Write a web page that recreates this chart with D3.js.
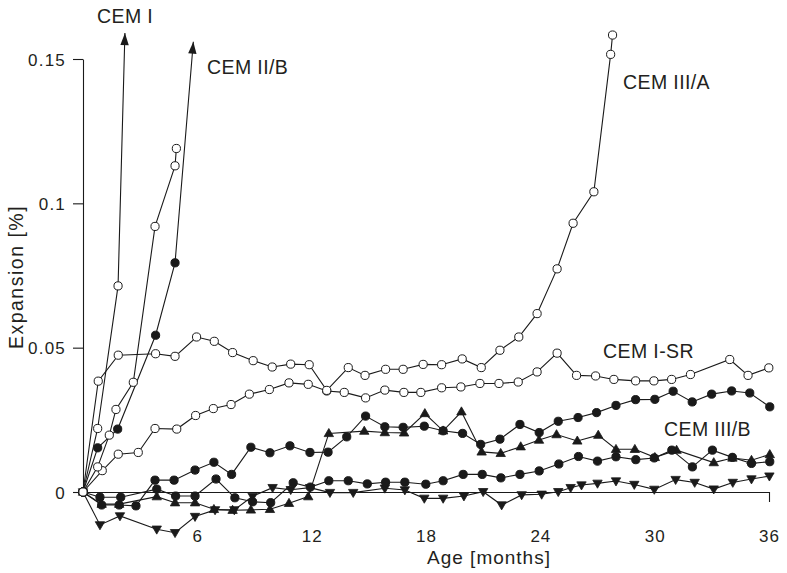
<!DOCTYPE html>
<html>
<head>
<meta charset="utf-8">
<script src="https://cdn.jsdelivr.net/npm/d3@7"></script>
<style>
  body { margin: 0; background: #fff; }
  svg text { font-family: "Liberation Sans", Arial, sans-serif; fill: #231f20; }
</style>
</head>
<body>
<div id="chart"></div>
<script>
// [month, expansion %]
const cemIOpen = [[0, 0], [0.77, 0.022], [1.84, 0.0714]];
const cemIArrow = [2.2, 0.159];

const cemIIBOpen = [[0, 0], [0.77, 0.0087], [1.38, 0.0197], [1.73, 0.0286], [2.64, 0.038],
    [3.78, 0.092], [4.83, 0.113], [4.9, 0.119]];
const cemIIBFilled = [[0, 0], [0.77, 0.0153], [1.82, 0.0218], [3.81, 0.0543], [4.83, 0.0794]];
const cemIIBArrow = [5.79, 0.156];

const cemIIIAOpen = [[0, 0], [0.8, 0.0384], [1.85, 0.0474], [3.81, 0.0479], [4.83, 0.047],
    [5.96, 0.0537], [6.89, 0.0522], [7.85, 0.0483], [8.93, 0.0455], [9.93, 0.0433],
    [10.9, 0.0443], [11.87, 0.0441], [12.79, 0.0352], [13.92, 0.0431], [14.8, 0.0404],
    [15.88, 0.0425], [16.8, 0.0425], [17.85, 0.0442], [18.82, 0.0441], [19.9, 0.0461],
    [20.9, 0.0431], [21.88, 0.0491], [22.87, 0.0537], [23.83, 0.0618], [24.88, 0.0773],
    [25.72, 0.0931], [26.81, 0.104], [27.69, 0.1516], [27.79, 0.1583]];

const cemISROpen = [[0, 0], [1.01, 0.0074], [1.85, 0.0131], [2.9, 0.0137], [3.78, 0.022],
    [4.92, 0.0218], [5.91, 0.0265], [6.84, 0.0289], [7.77, 0.0303], [8.73, 0.0339],
    [9.78, 0.0355], [10.81, 0.0378], [11.82, 0.0373], [12.79, 0.035], [13.71, 0.0345],
    [14.83, 0.0326], [15.84, 0.0353], [16.84, 0.0345], [17.73, 0.0345], [18.82, 0.0361],
    [19.83, 0.0364], [20.83, 0.0376], [21.83, 0.0376], [22.84, 0.0381], [23.83, 0.0416],
    [24.88, 0.0481], [25.9, 0.0404], [26.9, 0.0402], [27.86, 0.039], [29.0, 0.0385],
    [29.96, 0.0385], [30.89, 0.039], [31.88, 0.0407], [33.94, 0.0459], [34.9, 0.0404],
    [35.99, 0.043]];

const cemISRFilled = [[0, 0], [0.98, -0.0045], [1.9, -0.0045], [2.78, -0.0048], [3.78, 0.0041],
    [4.78, 0.0041], [5.88, 0.0076], [6.87, 0.0103], [7.8, 0.0061], [8.81, 0.0155],
    [9.81, 0.0136], [10.86, 0.016], [11.91, 0.0137], [12.86, 0.0138], [13.84, 0.0191],
    [14.83, 0.0263], [15.84, 0.0226], [16.8, 0.0224], [17.91, 0.0228], [18.9, 0.0212],
    [19.92, 0.0203], [20.87, 0.0165], [21.88, 0.0183], [22.93, 0.0234], [23.94, 0.0206],
    [24.94, 0.0245], [25.98, 0.0258], [26.95, 0.0275], [27.97, 0.03], [29.0, 0.032],
    [30.01, 0.0321], [30.97, 0.0349], [31.97, 0.0312], [32.99, 0.0339], [34.04, 0.035],
    [34.99, 0.0343], [36.04, 0.0295]];

const cemIIIBFilled = [[0, 0], [0.89, -0.0018], [1.98, -0.0018], [3.87, 0.001], [4.86, -0.0014],
    [5.88, -0.0014], [6.98, 0.0045], [7.97, -0.002], [8.9, -0.0034], [9.85, -0.0037],
    [11.03, 0.0032], [11.93, 0.0017], [12.9, 0.0039], [13.92, 0.0039], [14.92, 0.0028],
    [15.88, 0.0034], [16.89, 0.0034], [17.99, 0.0027], [18.9, 0.0039], [19.95, 0.0061],
    [20.95, 0.0061], [21.93, 0.0049], [22.93, 0.0061], [23.94, 0.0073], [24.97, 0.0097],
    [26.0, 0.0123], [27.0, 0.0107], [27.97, 0.0122], [29.01, 0.0112], [29.98, 0.0118],
    [30.9, 0.0145], [31.98, 0.0087], [33.03, 0.0145], [34.08, 0.012], [35.08, 0.0099],
    [36.04, 0.0105]];

const cemIIIBUp = [[0, 0], [0.98, -0.0042], [1.9, -0.0042], [3.87, -0.0016], [4.83, -0.0037],
    [5.88, -0.0037], [6.87, -0.006], [7.85, -0.0063], [8.81, -0.0062], [9.81, -0.006],
    [10.81, -0.0039], [11.82, -0.0016], [12.9, 0.0203], [14.76, 0.0211], [15.84, 0.0206],
    [16.85, 0.0205], [17.94, 0.0272], [18.9, 0.0212], [19.86, 0.0278], [20.92, 0.0139],
    [21.92, 0.0134], [22.97, 0.0157], [23.93, 0.018], [24.85, 0.0199], [25.94, 0.0177],
    [27.04, 0.0197], [27.97, 0.0148], [28.96, 0.0148], [30.01, 0.012], [31.15, 0.0145],
    [33.1, 0.0102], [34.08, 0.0118], [35.08, 0.011], [36.04, 0.013]];

const cemIIIBDown = [[0, 0], [0.89, -0.0114], [1.94, -0.0083], [3.87, -0.0129], [4.83, -0.0141],
    [5.88, -0.0085], [6.93, -0.0062], [7.94, -0.0062], [8.9, -0.0015], [9.95, 0.0015],
    [10.9, 0.0008], [11.91, 0.0015], [12.96, -0.0002], [14.18, -0.0002], [15.84, 0.0013],
    [16.89, 0.0007], [17.91, -0.0022], [18.9, -0.0022], [19.99, -0.0014], [21.0, 0.0001],
    [21.97, -0.0045], [23.02, -0.001], [24.07, -0.0008], [24.94, 0.0001], [25.59, 0.0015],
    [26.16, 0.0024], [27.0, 0.003], [27.97, 0.0038], [28.93, 0.0026], [29.98, 0.0009],
    [31.1, 0.0043], [32.1, 0.0033], [33.1, 0.001], [34.1, 0.0033], [35.08, 0.0045],
    [36.02, 0.0055]];

const xTicks = [6, 12, 18, 24, 30, 36];
const yTicks = [0, 0.05, 0.1, 0.15];
const yTickLabels = ["0", "0.05", "0.1", "0.15"];

const labels = [
    { text: "CEM I", x: 97, y: 23 },
    { text: "CEM II/B", x: 207, y: 74 },
    { text: "CEM III/A", x: 623, y: 89 },
    { text: "CEM I-SR", x: 603, y: 358 },
    { text: "CEM III/B", x: 664, y: 436 }
];

const width = 787, height = 573;
const ink = "#1a1a1a";

const svg = d3.select("#chart").append("svg")
    .attr("width", width)
    .attr("height", height);

const x = d3.scaleLinear().domain([0, 36]).range([83, 769]);
const y = d3.scaleLinear().domain([0, 0.15]).range([492, 59]);

// y axis only runs from 0 to 0.15
const yAxis = svg.append("g")
    .attr("transform", `translate(${x(0)},0)`)
    .call(d3.axisLeft(y).tickValues(yTicks)
        .tickFormat((d, i) => yTickLabels[i])
        .tickSize(10).tickSizeOuter(0).tickPadding(7));
yAxis.selectAll("text").style("font-size", "17px").style("letter-spacing", "1.2px")
    .attr("dy", "0.36em");

// x axis sits on the zero line, labels pushed well below
const xAxis = svg.append("g")
    .attr("transform", `translate(0,${y(0)})`)
    .call(d3.axisBottom(x).tickValues(xTicks)
        .tickSize(0).tickSizeOuter(0).tickPadding(38));
xAxis.selectAll("text").style("font-size", "17px").style("letter-spacing", "1px");
xAxis.selectAll(".tick line").filter(d => d === 36).attr("y2", 10);

svg.selectAll(".domain, .tick line").attr("stroke", ink).attr("stroke-width", 1.1);

svg.append("text")
    .attr("x", 489).attr("y", 564)
    .attr("text-anchor", "middle")
    .style("font-size", "19px").style("letter-spacing", "1px")
    .text("Age [months]");

svg.append("text")
    .attr("transform", "translate(23,277) rotate(-90)")
    .attr("text-anchor", "middle")
    .style("font-size", "19.5px").style("letter-spacing", "1.5px")
    .text("Expansion [%]");

const line = d3.line().x(d => x(d[0])).y(d => y(d[1]));

const series = [
    { data: cemIIIBDown, mark: "down" },
    { data: cemIIIBUp, mark: "up" },
    { data: cemIIIBFilled, mark: "filled" },
    { data: cemISRFilled, mark: "filled" },
    { data: cemISROpen, mark: "open" },
    { data: cemIIIAOpen, mark: "open" },
    { data: cemIIBFilled, mark: "filled", arrow: cemIIBArrow },
    { data: cemIIBOpen, mark: "open" },
    { data: cemIOpen, mark: "open", arrow: cemIArrow }
];

const lineLayer = svg.append("g");
const markLayer = svg.append("g");

series.forEach(s => {
    const pts = s.arrow ? s.data.concat([s.arrow]) : s.data;
    lineLayer.append("path")
        .attr("d", line(pts))
        .attr("fill", "none")
        .attr("stroke", ink)
        .attr("stroke-width", 1.1);

    if (s.arrow) {
        // arrow head drawn at the tip, pointing along the last segment
        const last = s.data[s.data.length - 1];
        const ang = Math.atan2(y(s.arrow[1]) - y(last[1]), x(s.arrow[0]) - x(last[0])) * 180 / Math.PI;
        lineLayer.append("path")
            .attr("d", "M0,0L-12,-4.2L-12,4.2Z")
            .attr("fill", ink)
            .attr("transform", `translate(${x(s.arrow[0])},${y(s.arrow[1])}) rotate(${ang})`);
    }

    const g = markLayer.append("g");
    if (s.mark === "open" || s.mark === "filled") {
        g.selectAll("circle").data(s.data).enter().append("circle")
            .attr("cx", d => x(d[0]))
            .attr("cy", d => y(d[1]))
            .attr("r", 4.1)
            .attr("fill", s.mark === "open" ? "#fff" : ink)
            .attr("stroke", ink)
            .attr("stroke-width", 1);
    } else {
        const tri = s.mark === "up" ? "M0,-4.9L4.7,3.2L-4.7,3.2Z" : "M0,4.9L4.7,-3.2L-4.7,-3.2Z";
        g.selectAll("path").data(s.data).enter().append("path")
            .attr("d", tri)
            .attr("transform", d => `translate(${x(d[0])},${y(d[1])})`)
            .attr("fill", ink)
            .attr("stroke", ink)
            .attr("stroke-width", 0.8);
    }
});

svg.append("g").selectAll("text").data(labels).enter().append("text")
    .attr("x", d => d.x).attr("y", d => d.y)
    .style("font-size", "19.5px").style("letter-spacing", "0.4px")
    .text(d => d.text);
</script>
</body>
</html>
